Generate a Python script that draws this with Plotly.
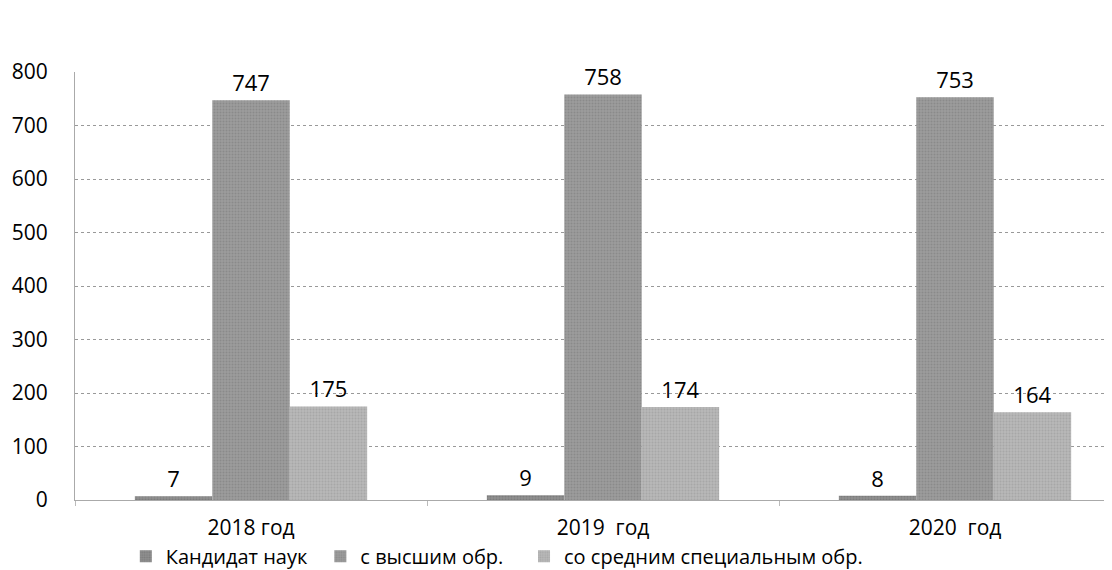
import plotly.graph_objects as go

years = ["2018 год", "2019  год", "2020  год"]
series_names = ["Кандидат наук", "с высшим обр.", "со средним специальным обр."]
kandidat = [7, 9, 8]
vysshee = [747, 758, 753]
srednee = [175, 174, 164]

colors = ["#8f8f8f", "#9d9d9d", "#b8b8b8"]
fg = ["#6a6a6a", "#787878", "#969696"]
legend_ids = ["legend", "legend2", "legend3"]
legend_x = [0.049, 0.2366, 0.433]

fig = go.Figure()
for name, vals, c, f, lg in zip(series_names, [kandidat, vysshee, srednee], colors, fg, legend_ids):
    fig.add_trace(go.Bar(
        x=years, y=vals, name=name, legend=lg,
        text=[str(v) for v in vals], textposition="outside",
        textfont=dict(size=22, color="black"),
        cliponaxis=False,
        marker=dict(color=c, line=dict(width=0),
                    pattern=dict(shape=".", fgcolor=f, bgcolor=c, size=3, solidity=0.4)),
    ))

# one legend box per series so the entries sit where they do in the original
legend_style = dict(orientation="h", y=-0.086, xanchor="left", yanchor="top",
                    font=dict(size=20), itemwidth=30, bgcolor="rgba(0,0,0,0)")
for lg, lx in zip(legend_ids, legend_x):
    fig.update_layout({lg: dict(legend_style, x=lx)})

# page body has an 8px margin, so the figure is sized to the visible area
fig.update_layout(
    width=1104, height=562,
    margin=dict(l=67, r=0, t=64, b=70, autoexpand=False),
    barmode="group", bargap=0.34, bargroupgap=0,
    plot_bgcolor="white", paper_bgcolor="white",
    font=dict(family="Open Sans, Liberation Sans, sans-serif", size=21, color="black"),
    showlegend=True,
)
fig.update_xaxes(
    range=[-0.5, 2.446], tickson="boundaries", ticks="outside", ticklen=5,
    tickcolor="#bbbbbb", showline=True, linecolor="#aaaaaa", linewidth=1,
    tickfont=dict(size=21), showgrid=False, automargin=False, ticklabelstandoff=9,
)
fig.update_yaxes(
    range=[0, 800], dtick=100, showgrid=True, gridcolor="#999999", griddash="dot",
    gridwidth=1, showline=True, linecolor="#aaaaaa", zeroline=False,
    tickfont=dict(size=21), ticks="", ticklabelstandoff=22, automargin=False,
)

fig.write_html("out.html")
